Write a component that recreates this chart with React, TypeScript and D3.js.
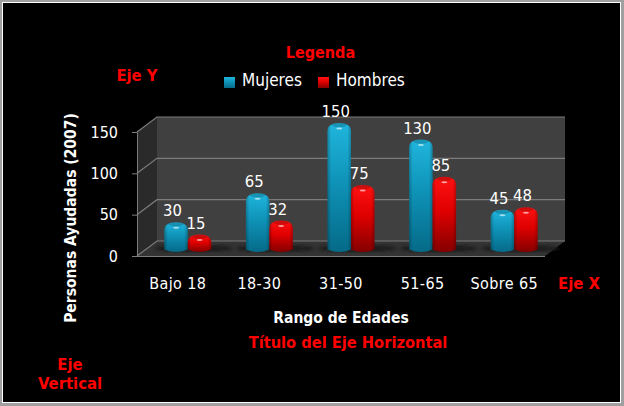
import React, { useEffect, useRef } from 'react';
import * as d3 from 'd3';

const categories = ['Bajo 18', '18-30', '31-50', '51-65', 'Sobre 65'];
const seriesNames = ['Mujeres', 'Hombres'];
const mujeres = [30, 65, 150, 130, 45];
const hombres = [15, 32, 75, 85, 48];
const yTicks = [0, 50, 100, 150];

const width = 624;
const height = 406;
const plot = { left: 137, right: 545, top: 132, bottom: 256 };
const depth = { x: 20, y: 15 };
const font = '"DejaVu Sans Condensed", "DejaVu Sans", sans-serif';

const App: React.FC = () => {
    const svgRef = useRef<SVGSVGElement | null>(null);

    useEffect(() => {
        if (!svgRef.current) return;
        const svg = d3.select(svgRef.current);
        svg.selectAll('*').remove();
        svg.attr('width', width).attr('height', height);

        const x = d3.scaleBand<string>().domain(categories).range([plot.left, plot.right]);
        const barWidth = 23.5;
        const inner = d3.scaleBand<string>()
            .domain(seriesNames)
            .range([x.bandwidth() / 2 - barWidth, x.bandwidth() / 2 + barWidth]);
        const y = d3.scaleLinear().domain([0, 150]).range([plot.bottom, plot.top]);

        const defs = svg.append('defs');
        const addVertical = (id: string, top: string, mid: string, bottom: string) => {
            const g = defs.append('linearGradient').attr('id', id).attr('x1', 0).attr('x2', 0).attr('y1', 0).attr('y2', 1);
            g.append('stop').attr('offset', '0%').attr('stop-color', top);
            g.append('stop').attr('offset', '45%').attr('stop-color', mid);
            g.append('stop').attr('offset', '100%').attr('stop-color', bottom);
        };
        addVertical('grad-Mujeres', '#20b6de', '#0f93b8', '#056a88');
        addVertical('grad-Hombres', '#ff1212', '#e00000', '#840000');
        const side = defs.append('linearGradient').attr('id', 'edge');
        side.append('stop').attr('offset', '0%').attr('stop-color', '#000').attr('stop-opacity', 0.25);
        side.append('stop').attr('offset', '15%').attr('stop-color', '#000').attr('stop-opacity', 0);
        side.append('stop').attr('offset', '85%').attr('stop-color', '#000').attr('stop-opacity', 0);
        side.append('stop').attr('offset', '100%').attr('stop-color', '#000').attr('stop-opacity', 0.25);
        defs.append('filter').attr('id', 'blur').append('feGaussianBlur').attr('stdDeviation', 1.5);

        // frame
        svg.append('rect').attr('width', width).attr('height', height).attr('fill', '#a0a0a0');
        svg.append('rect').attr('x', 2).attr('y', 2).attr('width', width - 5).attr('height', height - 5).attr('fill', '#fff');
        svg.append('rect').attr('x', 3).attr('y', 3).attr('width', width - 7).attr('height', height - 7).attr('fill', '#000');

        // walls and floor
        const line = d3.line();
        const wallStroke = '#7c7c7c';
        svg.append('path')
            .attr('d', line([[plot.left, plot.top], [plot.left + depth.x, plot.top - depth.y], [plot.left + depth.x, plot.bottom - depth.y], [plot.left, plot.bottom]]) + 'Z')
            .attr('fill', '#2a2a2a');
        svg.append('rect')
            .attr('x', plot.left + depth.x).attr('y', plot.top - depth.y)
            .attr('width', plot.right - plot.left).attr('height', plot.bottom - plot.top)
            .attr('fill', '#404040');
        svg.append('path')
            .attr('d', line([[plot.left, plot.bottom], [plot.left + depth.x, plot.bottom - depth.y], [plot.right + depth.x, plot.bottom - depth.y], [plot.right, plot.bottom]]) + 'Z')
            .attr('fill', '#333333');

        // gridlines along side wall and back wall
        yTicks.forEach((t) => {
            svg.append('path')
                .attr('d', line([[plot.left, y(t)], [plot.left + depth.x, y(t) - depth.y], [plot.right + depth.x, y(t) - depth.y]]))
                .attr('fill', 'none').attr('stroke', wallStroke).attr('stroke-width', 1.2);
        });
        svg.append('line')
            .attr('x1', plot.left).attr('x2', plot.right).attr('y1', y(0) + 0.5).attr('y2', y(0) + 0.5)
            .attr('stroke', wallStroke).attr('stroke-width', 1.2);

        // axes
        const yAxis = d3.axisLeft(y).tickValues(yTicks).tickSize(5).tickPadding(14).tickSizeOuter(0);
        svg.append('g')
            .attr('transform', `translate(${plot.left},0)`)
            .call(yAxis)
            .call((g) => g.select('.domain').attr('stroke', wallStroke))
            .call((g) => g.selectAll('.tick line').attr('stroke', wallStroke))
            .call((g) => g.selectAll('text').attr('fill', '#fff').attr('font-size', 16).attr('font-family', font));

        const xAxis = d3.axisBottom(x).tickSize(0).tickPadding(22);
        svg.append('g')
            .attr('transform', `translate(0,${plot.bottom})`)
            .call(xAxis)
            .call((g) => g.select('.domain').remove())
            .call((g) => g.selectAll('text').attr('fill', '#fff').attr('font-size', 16).attr('letter-spacing', 0.4).attr('font-family', font));

        // bars
        const barBase = plot.bottom - depth.y / 2 + 1;
        const ry = 2.5;
        const data = seriesNames.flatMap((name, s) =>
            categories.map((c, i) => ({ name, c, value: (s === 0 ? mujeres : hombres)[i] })));
        const xShift = depth.x / 2;

        // floor shadows first
        svg.append('g').selectAll('ellipse').data(categories).enter().append('ellipse')
            .attr('cx', (c) => (x(c) as number) + x.bandwidth() / 2 + xShift + 6)
            .attr('cy', barBase - 1)
            .attr('rx', barWidth + 16)
            .attr('ry', 3.5)
            .attr('fill', '#1c1c1c')
            .attr('filter', 'url(#blur)');

        const bars = svg.append('g').selectAll('g').data(data).enter().append('g')
            .attr('transform', (d) => `translate(${(x(d.c) as number) + (inner(d.name) as number) + xShift},0)`);
        const w = inner.bandwidth();
        const barTop = (v: number) => y(v) - (plot.bottom - barBase);
        const barPath = (v: number) => {
            const top = barTop(v);
            const path = d3.path();
            const r = Math.min(6, (barBase - top) / 2);
            path.moveTo(0, barBase);
            path.lineTo(0, top + r);
            path.quadraticCurveTo(0, top - ry, w / 2, top - ry);
            path.quadraticCurveTo(w, top - ry, w, top + r);
            path.lineTo(w, barBase);
            path.quadraticCurveTo(w / 2, barBase + 2 * ry, 0, barBase);
            path.closePath();
            return path.toString();
        };
        bars.append('path').attr('d', (d) => barPath(d.value)).attr('fill', (d) => `url(#grad-${d.name})`);
        bars.append('path').attr('d', (d) => barPath(d.value)).attr('fill', 'url(#edge)');
        // darker cap on top of each cylinder
        bars.append('ellipse')
            .attr('cx', w / 2)
            .attr('cy', (d) => barTop(d.value) - 0.5)
            .attr('rx', w / 2 - 4).attr('ry', 2)
            .attr('fill', '#000').attr('opacity', 0.18);
        bars.append('ellipse')
            .attr('cx', w / 2)
            .attr('cy', (d) => barTop(d.value) + 3)
            .attr('rx', 3).attr('ry', 1)
            .attr('fill', '#fff').attr('opacity', 0.6);

        // value labels
        svg.append('g').selectAll('text').data(data).enter().append('text')
            .attr('x', (d) => (x(d.c) as number) + (inner(d.name) as number) + xShift + w / 2 - 3.5)
            .attr('y', (d) => barTop(d.value) - ry - 6)
            .attr('text-anchor', 'middle')
            .attr('font-family', font).attr('font-size', 16.5).attr('fill', '#fff')
            .text((d) => d.value);

        // legend
        const legend = svg.append('g');
        const legendX = d3.scaleOrdinal<string, number>().domain(seriesNames).range([224, 318]);
        seriesNames.forEach((name) => {
            legend.append('rect')
                .attr('x', legendX(name)).attr('y', 77).attr('width', 11).attr('height', 11)
                .attr('fill', `url(#grad-${name})`);
            legend.append('text')
                .attr('x', legendX(name) + 18).attr('y', 86)
                .attr('font-family', font).attr('font-size', 17).attr('fill', '#fff')
                .text(name);
        });

        // titles and annotations
        const label = (txt: string, tx: number, ty: number, size: number, color: string) =>
            svg.append('text')
                .attr('x', tx).attr('y', ty)
                .attr('text-anchor', 'middle')
                .attr('font-family', font).attr('font-weight', 'bold')
                .attr('font-size', size).attr('fill', color)
                .text(txt);
        label('Legenda', 320.5, 58, 16, '#ff0000');
        label('Eje Y', 137, 81, 16.5, '#ff0000');
        label('Eje X', 579, 289, 16.5, '#ff0000');
        label('Rango de Edades', 341, 323, 15.5, '#ffffff');
        label('Título del Eje Horizontal', 348, 348, 16.3, '#ff0000');
        label('Eje', 70, 370, 16.5, '#ff0000');
        label('Vertical', 70, 389, 16.5, '#ff0000');
        label('Personas Ayudadas (2007)', 0, 0, 15.5, '#ffffff')
            .attr('transform', 'translate(76,218) rotate(-90)');
    }, []);

    return <svg ref={svgRef} style={{ position: 'absolute', left: 0, top: 0, display: 'block' }}></svg>;
};

export default App;
